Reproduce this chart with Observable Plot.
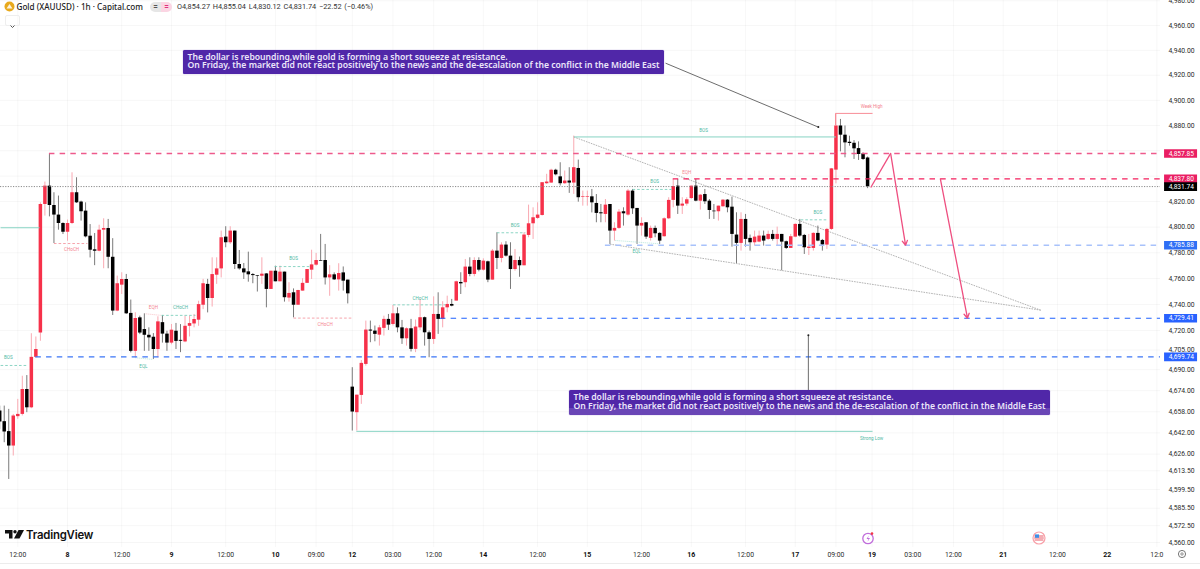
<!DOCTYPE html>
<html><head><meta charset="utf-8">
<script src="https://cdn.jsdelivr.net/npm/d3@7"></script>
<script src="https://cdn.jsdelivr.net/npm/@observablehq/plot@0.6"></script>
<style>
html,body{margin:0;padding:0;background:#fff;width:1200px;height:569px;overflow:hidden}
#wrap{position:relative;width:1200px;height:569px;overflow:hidden;font-family:Roboto,sans-serif}
#wrap svg.plot{position:absolute;left:0;top:0}
.abs{position:absolute;white-space:nowrap}
.callout{position:absolute;width:481px;height:24.5px;box-sizing:border-box;padding:3px 0 0 5px;border-radius:1.5px;color:#ece6fa;
 font:600 8.65px/8.9px "Noto Sans",sans-serif;white-space:nowrap;background:#5027a8;box-shadow:0 0 1px #7a5cc4}
</style></head><body><div id="wrap"></div>
<script>
const opens=[4658.5,4650.5,4643,4632.1,4654.3,4656,4674.9,4661,4699.4,4718,
4817.7,4832.1,4816.9,4809.4,4802.8,4796,4802.8,4826.9,4819.6,4812.5,
4792.9,4782.3,4781.2,4797.6,4798.9,4776.5,4734.9,4754.9,4759.3,4733.1,
4704,4729.7,4720.7,4716.3,4714.8,4705.4,4726,4717.2,4710.3,4719.4,
4712.4,4711.2,4723.2,4725,4727.9,4739.4,4755.5,4744.6,4762.6,4767.5,
4792.2,4787.8,4796.9,4770.9,4767.5,4765.2,4763.1,4762.3,4761.8,4763.6,
4751.6,4765.7,4757.5,4765,4744.9,4749,4739.4,4750.3,4756.3,4766.5,
4770.4,4774,4774,4760.5,4762.9,4759,4764.4,4758.8,4676.7,4657.3,
4670.4,4694,4720.3,4719.5,4716.4,4721.6,4728.5,4724.6,4732.8,4722,
4713.6,4721.3,4705.5,4722,4729.8,4718.2,4713.1,4732.3,4728.5,4737.4,
4740,4742.6,4757,4756.8,4768.9,4763.2,4774,4766.5,4773,4758.8,
4781.3,4775.6,4786,4777.4,4767,4774,4769.9,4793.5,4802.6,4806.8,
4809.1,4834,4834.5,4844.6,4839.4,4834,4836.1,4834.5,4846,4823.2,
4823.2,4823.7,4818.5,4811.2,4809.9,4817.7,4796.9,4799,4812,4809.4,
4828.2,4814.6,4800.8,4803.4,4791.2,4799,4795.1,4792.5,4806.5,4820.9,
4832.1,4816.4,4818,4822.4,4832.1,4820.3,4825.5,4820.3,4812.5,4812,
4815.9,4821.1,4815.6,4793.8,4787.3,4806,4791.2,4787.8,4788.3,4793,
4790.4,4794.3,4790.4,4794.3,4788.6,4783.4,4792.2,4802.1,4793.5,4783.4,
4783.4,4795.1,4789.6,4786,4798.2,4844.7,4879.6,4872.3,4866.7,4865.9,
4861.7,4857.5,4854.27];
const highs=[4662.3,4662.3,4659.8,4656,4667.4,4685,4685.5,4717.5,4715,4819,
4835.3,4857,4826.9,4824.3,4803.4,4805.5,4842.6,4838.7,4820.3,4819,
4802,4795,4801.5,4806.5,4806,4791,4761.9,4764.5,4763.2,4743.4,
4733.6,4731,4732.8,4722,4717.6,4730.5,4731.5,4719.4,4724.6,4725.4,
4724.5,4731,4731,4732.3,4742.5,4759.4,4759.4,4776.1,4776.1,4796.9,
4800.3,4800.3,4796.9,4781.8,4771.7,4780.5,4763.9,4762.3,4776.1,4763.9,
4765.7,4769.6,4769.6,4765,4756.8,4752,4750.8,4759.9,4767,4782,
4779.5,4794.3,4786.5,4770,4764.4,4771.5,4769,4758.8,4691.5,4670.6,
4697,4727.2,4727.2,4723.4,4723.9,4731,4732.3,4739.2,4737.4,4727.7,
4722,4728.5,4728,4743.9,4730.3,4719.5,4745.9,4749,4742.1,4746.4,
4743.9,4758,4764.5,4774.8,4776.1,4776.1,4776.1,4775.3,4773.5,4782.6,
4795.6,4787.8,4788.6,4787.8,4782.6,4776.7,4795.6,4817.2,4815.1,4819,
4834.8,4841.4,4845.4,4845.4,4850.5,4844,4846.6,4871.6,4852.6,4828.2,
4828.2,4829.5,4825.5,4817.7,4821.6,4817.7,4803.4,4813.8,4815.1,4829.5,
4829.5,4814.6,4807.3,4803.4,4800.8,4800.8,4795.6,4807.3,4823,4837.3,
4837.3,4823,4823,4832.1,4837.3,4825.5,4829.5,4821.6,4817.7,4816.4,
4821.6,4821.6,4823.5,4811.2,4811.2,4809.9,4793.8,4796.9,4796.9,4796.9,
4796.9,4797.4,4800,4794.3,4789.1,4794.3,4802.6,4806,4794.3,4794.3,
4795.6,4800.8,4790.4,4799,4846,4889.3,4884.8,4879.6,4871.5,4868,
4867,4858.3,4855.04];
const lows=[4644.7,4634.6,4607,4624.6,4652.3,4654.8,4657.3,4660.3,4698.6,4711.7,
4808.6,4808,4787.2,4797.6,4794.2,4789,4802,4818.5,4804.7,4791.6,
4776,4770,4780.7,4767.6,4767.6,4731.5,4734.4,4747.7,4732.3,4702.8,
4699,4716.8,4704,4704,4697.8,4699,4710.3,4704,4709,4705.4,
4703,4710.6,4715,4722,4723.2,4736,4733.5,4738,4755.5,4760.5,
4783.9,4786.5,4767,4766.5,4759.3,4757.2,4756,4749.6,4755.5,4737.4,
4751.6,4757.5,4757.5,4741.8,4741.8,4729.7,4739.4,4750.3,4756.3,4759.3,
4769.6,4773.5,4755,4746.3,4758.5,4750.3,4750.3,4740.4,4643.4,4643.4,
4663.6,4692.7,4710.6,4711.3,4708,4715.7,4720,4723.4,4718.2,4709.3,
4708,4703.5,4703,4720,4708,4699.1,4709.3,4717,4722,4733.6,
4738.2,4742.6,4747.7,4752.9,4761.4,4761.4,4765.2,4765.7,4756.8,4758.8,
4767,4772.2,4776.7,4751.6,4765.7,4761,4769.9,4791.7,4790.4,4806,
4808.6,4833.5,4834.3,4840.2,4832.2,4833.5,4826.4,4825.6,4819.5,4816.4,
4816.4,4811.1,4803.4,4803.4,4803.4,4786.5,4789.1,4798.2,4800.8,4808.6,
4809.9,4786.5,4793,4790.4,4789.1,4791.7,4786.5,4792.2,4806,4815.1,
4809.9,4809.9,4816.4,4821.6,4819.8,4813.3,4817.7,4806,4806,4804.7,
4815.6,4811.2,4784.4,4771.7,4781.3,4784.4,4781.3,4785.2,4787.8,4785.2,
4789.6,4789.1,4785.2,4766,4782.6,4783.4,4791.7,4792.2,4778.7,4777.9,
4781.3,4788.6,4781.3,4782.6,4797.4,4833.9,4859.1,4854.4,4863.6,4853.1,
4852.3,4852.3,4830.12];
const closes=[4650.2,4642.7,4632.1,4654.8,4656,4674.9,4661,4699.4,4705.4,4817.7,
4832.1,4816.9,4809.4,4802.8,4796,4802.8,4826.9,4819,4812,4792.4,
4782,4781.2,4797.6,4798.9,4776.5,4734.9,4756,4759.3,4732.8,4704,
4729.2,4718,4716.3,4714.3,4705.4,4726.6,4717.2,4710.3,4720.2,4711.6,
4711.7,4723.2,4725.3,4728.4,4739.9,4756,4744.6,4763.1,4767.5,4791.7,
4787.8,4796.9,4770.9,4767.5,4764.4,4762.9,4762.3,4761.8,4763.4,4751.6,
4765.7,4757.5,4765,4745.2,4748.5,4739.4,4750.8,4756.3,4767,4770.6,
4774,4773.5,4760.5,4762.9,4759,4763.9,4758,4748.2,4657.8,4670.6,
4694.8,4720.3,4719.5,4717,4722,4728.5,4724.1,4732.8,4722,4713.6,
4721.3,4705.5,4722.6,4729.8,4718.2,4713.1,4732.3,4728.5,4737.4,4740,
4738.7,4757.5,4755.9,4768.9,4763.2,4774,4766.5,4773.5,4758.8,4781.3,
4775.6,4786,4777.4,4767,4774,4769.9,4793.8,4802.6,4807.3,4809.4,
4834.8,4835.3,4844.6,4841,4834,4836.1,4834.5,4846.6,4823,4823.7,
4823.7,4819,4810.7,4810.4,4817.2,4796.9,4799,4811.7,4810.4,4828.2,
4814.3,4800.8,4802.9,4792.2,4799,4794.8,4789.1,4806.5,4820.9,4831.8,
4816.4,4818,4821.4,4832.1,4820.3,4825,4819.8,4813,4812,4816.4,
4821.1,4815.1,4794.3,4787.3,4806,4790.4,4787.8,4792.2,4793,4789.1,
4794.3,4790.4,4794.3,4788.3,4783.4,4792.5,4802.1,4793,4783.9,4784.4,
4795.1,4789.1,4786,4798.2,4845.7,4879.6,4872.3,4866.2,4865.7,4861.5,
4857,4853.1,4831.74];

const gridPrices=[4980,4960,4940,4920,4900,4880,4860,4840,4820,4800,4780,4760,4740,4720,4705,4690,4674,4658,4642,4626,4613.5,4599.5,4585.5,4572.5,4560];
const priceTicks=[4980,4960,4940,4920,4900,4880,4820,4800,4780,4760,4740,4720,4705,4690,4674,4658,4642,4626,4613.5,4599.5,4585.5,4572.5,4560];
const timeBars=[4,27,50,70,87,96,119,142,165,185,202,211,234,256];
const timeLabels=["12:00","12:00","12:00","09:00","03:00","12:00","12:00","12:00","12:00","09:00","03:00","12:00","12:00","12:0"];
const dayBars=[15,38,61,78,107,130,153,176,193,222,245];
const dayLabels=["8","9","10","12","14","15","16","17","19","21","22"];
const gridBars=[4,15,27,38,50,61,70,78,87,96,107,119,130,142,153,165,176,185,193,202,211,222,234,245,256];

const levelPrices=[4857.85,4837.80,4785.88,4729.41,4699.74];
const levelStart=[11,149,134,97.5,8];
const levelColor=["#ee5a8c","#f41f5c","#a8c2fb","#1f62ff","#3b75f6"];
const levelWeight=[1.4,1.1,1.5,1.1,1.3];
const lastPrice=4831.74;
const tagPrices=[4857.85,4837.80,4785.88,4729.41,4699.74,4831.74];
const tagLabels=["4,857.85","4,837.80","4,785.88","4,729.41","4,699.74","4,831.74"];
const tagColor=["#ea1e63","#ea1e63","#2f6ff5","#2962ff","#2962ff","#000000"];

// solid structure lines [bar1, price1, bar2, price2]
const solidTeal=[[0.2,4799.5,8.8,4799.5],[127,4870.9,185,4870.9],[78.9,4643.2,193.1,4643.2]];
const weekHigh=[[184.9,4880,184.9,4889.6],[184.9,4889.6,193.1,4889.6]];
// dashed structure lines
const dashTeal=[[0.2,4693.2,6.2,4693.2],[35.8,4731.6,43.3,4731.6],[60.8,4769.3,68.8,4769.3],[87,4739.7,98.6,4739.7],[110,4795.6,116.3,4795.6],[140,4829.5,148.8,4829.5],[177.2,4805.7,183.1,4805.7]];
const dashRed=[[12,4787.2,19.4,4787.2],[65,4729.5,78,4729.5]];
const dotTeal=[[30,4699.1,34,4697.8],[136.2,4789.6,145.8,4787]];
const dotRed=[[32.3,4732.8,35.7,4731.6]];
const trendLines=[[127,4870.9,230.3,4735.6],[135,4786.7,230.3,4735.6]];
const tealNotes=["BOS","BOS","CHoCH","EQL","BOS","CHoCH","BOS","BOS","EQL","BOS","Strong Low"];
const tealNoteBar=[1.9,65,40,31.8,114,93,144.9,155.7,140.9,181,192.9];
const tealNotePrice=[4699.5,4775.3,4737.9,4692.7,4801,4744.9,4835.5,4876.3,4781.3,4811.2,4638.1];
const redNotes=["CHoCH","EQH","CHoCH","EQH","Week High"];
const redNoteBar=[15.9,34,72,152,192.9];
const redNotePrice=[4782.5,4737.9,4724.9,4843.1,4895.4];
// hand-drawn projections
const zigLeg=[[192.7,4831,197.1,4857.85]];
const arrows=[[197.1,4857.85,200.4,4785.88],[208.1,4837.8,214.1,4729.41]];
const pointers=[[147.3,4929.7,181.1,4878.7],[178.9,4673.7,178.9,4716.4]];

const candles=opens.map((o,i)=>({i,o,h:highs[i],l:lows[i],c:closes[i],up:closes[i]>=o}));
const seg={x1:d=>d[0],y1:d=>d[1],x2:d=>d[2],y2:d=>d[3]};
const note="Roboto,sans-serif";
const fmt=d3.format(",.2f");
const endBar=256.8;

const plot=Plot.plot({
  width:1200,height:569,marginTop:0,marginBottom:22,marginLeft:0,marginRight:40,
  style:{background:"#fff",fontFamily:"Roboto,sans-serif",overflow:"hidden"},
  x:{type:"linear",domain:[0.177,endBar],label:null},
  y:{type:"log",domain:[4556.3,4980.2],label:null},
  color:{type:"identity"},
  marks:[
    Plot.gridY(gridPrices,{stroke:"#000",strokeOpacity:0.035}),
    Plot.gridX(gridBars,{stroke:"#000",strokeOpacity:0.03}),
    Plot.link(trendLines,{...seg,stroke:"#b3b3b3",strokeWidth:1,strokeDasharray:"1.6,1"}),
    Plot.ruleX(candles,{x:"i",y1:"l",y2:"h",stroke:d=>d.up?"#f9a9b2":"#7a7a7a",strokeWidth:1}),
    Plot.ruleX(candles,{x:"i",y1:"o",y2:"c",stroke:d=>d.up?"#f6314a":"#000000",strokeWidth:3.5}),
    Plot.link(solidTeal,{...seg,stroke:"#86d3c3",strokeWidth:1}),
    Plot.link(weekHigh,{...seg,stroke:"#f88c96",strokeWidth:1}),
    Plot.link(dashTeal,{...seg,stroke:"#7fd0bd",strokeWidth:0.9,strokeDasharray:"2.6,2"}),
    Plot.link(dashRed,{...seg,stroke:"#f59aa3",strokeWidth:0.9,strokeDasharray:"2.6,2"}),
    Plot.link(dotTeal,{...seg,stroke:"#a6dfd2",strokeWidth:0.8,strokeDasharray:"1,1"}),
    Plot.link(dotRed,{...seg,stroke:"#f7b5bb",strokeWidth:0.8,strokeDasharray:"1,1"}),
    Plot.ruleY([lastPrice],{x1:0.177,x2:endBar,stroke:"#8a8a8a",strokeWidth:1,strokeDasharray:"1.2,1.4"}),
    ...levelPrices.map((p,i)=>Plot.ruleY([p],{x1:levelStart[i],x2:endBar,stroke:levelColor[i],strokeWidth:levelWeight[i],strokeDasharray:"5.5,5.2"})),
    Plot.link(pointers,{...seg,stroke:"#5c5c5c",strokeWidth:0.9}),
    Plot.dot(pointers,{x:d=>d[2],y:d=>d[3],r:1,fill:"#222",stroke:"none"}),
    Plot.link(zigLeg,{...seg,stroke:"#ee4f80",strokeWidth:1.3}),
    Plot.arrow(arrows,{...seg,stroke:"#ee4f80",strokeWidth:1.3,headLength:6,headAngle:60}),
    Plot.text(tealNotes,{x:(d,i)=>tealNoteBar[i],y:(d,i)=>tealNotePrice[i],text:d=>d,fill:"#4fb9a4",fontSize:4.6,fontFamily:note}),
    Plot.text(redNotes,{x:(d,i)=>redNoteBar[i],y:(d,i)=>redNotePrice[i],text:d=>d,fill:"#f4848f",fontSize:4.6,fontFamily:note}),
    Plot.axisY(priceTicks,{anchor:"right",tickSize:0,tickPadding:8,tickFormat:fmt,label:null,fill:"#2b2b2b",fontSize:6.8,textAnchor:"start"}),
    Plot.axisX(timeBars,{anchor:"bottom",tickSize:0,tickPadding:5,tickFormat:b=>timeLabels[timeBars.indexOf(b)],label:null,fill:"#2b2b2b",fontSize:6.8}),
    Plot.axisX(dayBars,{anchor:"bottom",tickSize:0,tickPadding:5,tickFormat:b=>dayLabels[dayBars.indexOf(b)],label:null,fill:"#111",fontSize:7,fontWeight:"bold"}),
    Plot.ruleY(tagPrices,{x1:257.7,x2:265,stroke:(d,i)=>tagColor[i],strokeWidth:8.6}),
    Plot.text(tagPrices,{x:258.6,y:d=>d,text:(d,i)=>tagLabels[i],textAnchor:"start",fill:"#fff",fontSize:6.6,fontFamily:note})
  ]
});
const wrap=document.getElementById("wrap");
wrap.appendChild(plot);
const add=h=>wrap.insertAdjacentHTML("beforeend",h);
const msg1="The dollar is rebounding,while gold is forming a short squeeze at resistance.";
const msg2="On Friday, the market did not react positively to the news and the de-escalation of the conflict in the Middle East";
add(`<div class="callout" style="left:182.5px;top:49.5px">${msg1}<br>${msg2}</div>`);
add(`<div class="callout" style="left:568.5px;top:390px;background:linear-gradient(#5027a8 70%,#6a46b6 70%)">${msg1}<br>${msg2}</div>`);
// header
add(`<svg class="abs" style="left:4px;top:1px" width="11" height="11" viewBox="0 0 11 11"><circle cx="5.5" cy="5.5" r="5" fill="#e8a91c"/><path d="M2.5 7.5h6L5.5 3z" fill="#fff" opacity=".85"/></svg>`);
add(`<div class="abs" style="left:16.5px;top:0;font:500 8.15px/13px 'Noto Sans',sans-serif;color:#1a1a1a">Gold (XAUUSD) · 1h · Capital.com</div>`);
add(`<div class="abs" style="left:150px;top:1.5px;width:11px;height:10px;background:#e6e6e6;border-radius:5px 0 0 5px;font:700 8px/10px Roboto;text-align:center;color:#555">=</div>`);
add(`<div class="abs" style="left:161px;top:1.5px;width:11px;height:10px;background:#fbd5e3;border-radius:0 5px 5px 0;font:700 8px/10px Roboto;text-align:center;color:#e0327c">=</div>`);
add(`<div class="abs" style="left:177px;top:0;font:400 7.3px/13px Roboto,sans-serif;color:#333;word-spacing:1px">O4,854.27 H4,855.04 L4,830.12 C4,831.74 −22.52 (−0.46%)</div>`);
add(`<div class="abs" style="left:4.5px;top:15px;width:15px;height:11px;border:1px solid #eee;border-radius:2px;box-sizing:border-box"><svg width="13" height="9"><path d="M4.5 3.5L6.5 5.5L8.5 3.5" fill="none" stroke="#555" stroke-width="1"/></svg></div>`);
// logo
add(`<svg class="abs" style="left:5px;top:530px" width="19" height="10" viewBox="0 0 19 10"><path d="M0 0h7.5v8.5H4V3.5H0z" fill="#111"/><circle cx="10" cy="1.8" r="1.7" fill="#111"/><path d="M13.5 0H19L14.5 8.5H9z" fill="#111"/></svg>`);
add(`<div class="abs" style="left:26px;top:527px;font:600 11.4px/16px 'Inter',sans-serif;color:#111;letter-spacing:-.2px">TradingView</div>`);
// event icons
add(`<svg class="abs" style="left:861px;top:531px" width="15" height="14" viewBox="0 0 15 14"><circle cx="7" cy="7.5" r="5.2" fill="#fff" stroke="#c06ddb" stroke-width="1.3"/><path d="M7.8 4.5L5.5 8h2L6.5 10.8L9 7H7z" fill="#c06ddb"/><circle cx="11" cy="2.6" r="1.3" fill="#f23645"/></svg>`);
add(`<svg class="abs" style="left:1032px;top:531px" width="14" height="14" viewBox="0 0 14 14"><circle cx="7" cy="7" r="6" fill="#fff" stroke="#f8a0a8" stroke-width="1.2"/><path d="M2.4 5h9.2M2.2 7h9.6M2.6 9h8.8" stroke="#e95b68" stroke-width="1"/><rect x="3" y="3.4" width="4" height="3.4" fill="#3f8fe6"/></svg>`);
// gear and bottom rule
add(`<svg class="abs" style="left:1176px;top:548px" width="12" height="12"><circle cx="6" cy="6" r="3.6" fill="none" stroke="#666" stroke-width=".9"/><circle cx="6" cy="6" r="1.2" fill="none" stroke="#666" stroke-width=".7"/></svg>`);
add(`<div class="abs" style="left:0;top:562.5px;width:1200px;height:1px;background:#ececec"></div>`);
</script></body></html>
